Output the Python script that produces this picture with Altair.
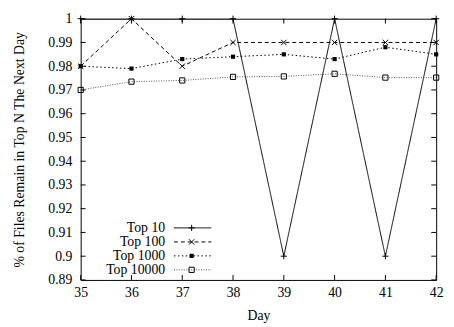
import altair as alt
import pandas as pd

days = [35, 36, 37, 38, 39, 40, 41, 42]
series_names = ["Top 10", "Top 100", "Top 1000", "Top 10000"]
top10 = [1.0, 1.0, 1.0, 1.0, 0.90, 1.0, 0.90, 1.0]
top100 = [0.980, 1.0, 0.980, 0.990, 0.990, 0.990, 0.990, 0.990]
top1000 = [0.980, 0.979, 0.983, 0.984, 0.985, 0.983, 0.988, 0.985]
top10000 = [0.970, 0.9735, 0.974, 0.9755, 0.9757, 0.9768, 0.9752, 0.9752]
y_ticks = [0.89, 0.90, 0.91, 0.92, 0.93, 0.94, 0.95, 0.96, 0.97, 0.98, 0.99, 1.0]
x_ticks = [35, 36, 37, 38, 39, 40, 41, 42]

W, H = 362, 266
FONT = "'Liberation Serif', 'Times New Roman', 'DejaVu Serif', serif"

rows = []
for name, vals in zip(series_names, [top10, top100, top1000, top10000]):
    for d, v in zip(days, vals):
        rows.append({"day": d, "value": v, "name": name})
df = pd.DataFrame(rows)

dash_range = [[1, 0], [4, 3], [1.5, 2.5], [1, 1.5]]
color_range = ["#000000", "#000000", "#000000", "#555555"]

xs = alt.Scale(domain=[35, 42], nice=False, zero=False)
ys = alt.Scale(domain=[0.89, 1.0], nice=False, zero=False)

x_axis = alt.Axis(values=x_ticks, format="d", title="Day", labelPadding=6,
                  labelOverlap=False, labelFlush=False,
                  titleY=40, titleBaseline="alphabetic")
y_axis = alt.Axis(values=y_ticks, format=".2~f", labelOverlap=False,
                  labelFlush=False, labelSeparation=0,
                  title="% of Files Remain in Top N The Next Day",
                  labelPadding=9, titleX=-62, titleY=H / 2,
                  titleBaseline="middle", titleAlign="center")
x_enc = alt.X("day:Q", scale=xs, axis=x_axis)
y_enc = alt.Y("value:Q", scale=ys, axis=y_axis)

lines = alt.Chart(df).mark_line(strokeWidth=1, clip=True).encode(
    x=x_enc, y=y_enc,
    strokeDash=alt.StrokeDash("name:N", scale=alt.Scale(domain=series_names, range=dash_range), legend=None),
    color=alt.Color("name:N", scale=alt.Scale(domain=series_names, range=color_range), legend=None),
)

plus_path = "M-1,0L1,0M0,-1L0,1"
x_path = "M-1,-1L1,1M-1,1L1,-1"
marker_specs = {
    "Top 10": dict(shape=plus_path, size=40, filled=False, strokeWidth=1),
    "Top 100": dict(shape=x_path, size=30, filled=False, strokeWidth=1),
    "Top 1000": dict(shape="square", size=18, filled=True),
    "Top 10000": dict(shape="square", size=28, filled=False, strokeWidth=1),
}

layers = [lines]
for name in series_names:
    spec = marker_specs[name]
    layers.append(
        alt.Chart(df).transform_filter(alt.datum.name == name)
        .mark_point(color="black", opacity=1, **spec)
        .encode(x=x_enc, y=y_enc)
    )

# inward ticks
yt = pd.DataFrame({"value": y_ticks})
xt = pd.DataFrame({"day": x_ticks})
TL = 5
layers.append(alt.Chart(yt).mark_rule(color="black", strokeWidth=1).encode(
    y=y_enc, x=alt.value(0), x2=alt.value(TL)))
layers.append(alt.Chart(yt).mark_rule(color="black", strokeWidth=1).encode(
    y=y_enc, x=alt.value(W - TL), x2=alt.value(W)))
layers.append(alt.Chart(xt).mark_rule(color="black", strokeWidth=1).encode(
    x=x_enc, y=alt.value(H - TL), y2=alt.value(H)))
layers.append(alt.Chart(xt).mark_rule(color="black", strokeWidth=1).encode(
    x=x_enc, y=alt.value(0), y2=alt.value(TL)))

# legend (gnuplot style: label, then line sample with marker)
leg = pd.DataFrame({"name": series_names})
leg_y = [213, 227.3, 241.5, 255.7]
for i, name in enumerate(series_names):
    base = alt.Chart(leg).transform_filter(alt.datum.name == name)
    layers.append(base.mark_text(align="right", baseline="middle", font=FONT,
                                 fontSize=14, color="black").encode(
        text="name:N", x=alt.value(86), y=alt.value(leg_y[i])))
    layers.append(base.mark_rule(strokeWidth=1, color=color_range[i],
                                 strokeDash=dash_range[i]).encode(
        x=alt.value(95), x2=alt.value(133), y=alt.value(leg_y[i])))
    spec = marker_specs[name]
    layers.append(base.mark_point(color="black", opacity=1, **spec).encode(
        x=alt.value(113), y=alt.value(leg_y[i])))

chart = alt.layer(*layers).properties(
    width=W, height=H,
    padding={"left": 74, "top": 8, "right": 10, "bottom": 45},
    autosize=alt.AutoSizeParams(type="none"),
).configure(font=FONT).configure_view(
    stroke="black", strokeWidth=1
).configure_axis(
    domain=False, ticks=False, grid=False, labelOverlap=False,
    labelFont=FONT, labelFontSize=14, labelColor="black",
    titleFont=FONT, titleFontSize=14, titleFontWeight="normal", titleColor="black",
)

chart.save("out.html", embed_options={"renderer": "svg", "actions": False})
